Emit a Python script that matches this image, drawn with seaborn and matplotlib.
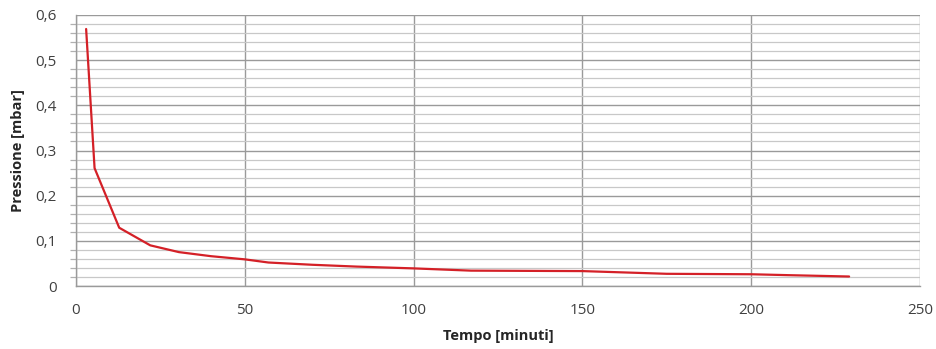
import matplotlib
matplotlib.use("Agg")
import matplotlib.pyplot as plt
import seaborn as sns
import pandas as pd
from matplotlib.ticker import MultipleLocator, FuncFormatter

tempo = [3, 5.5, 12.8, 22, 30.5, 40, 50, 57, 70, 83, 100, 117, 150, 175, 200, 211, 229]
pressione = [0.569, 0.261, 0.129, 0.090, 0.075, 0.066, 0.059, 0.052, 0.047, 0.043,
             0.039, 0.034, 0.033, 0.027, 0.026, 0.024, 0.021]
x_ticks = [0, 50, 100, 150, 200, 250]
y_ticks = [0, 0.1, 0.2, 0.3, 0.4, 0.5, 0.6]

df = pd.DataFrame({"Tempo": tempo, "Pressione": pressione})

sns.set_style("white")
plt.rcParams['font.family'] = ['Open Sans', 'DejaVu Sans']

fig = plt.figure(figsize=(9.36, 3.49), dpi=100)
ax = fig.add_axes([76/936, 1-286/349, (920-76)/936, (286-15)/349])

sns.lineplot(data=df, x="Tempo", y="Pressione", ax=ax, color="#d42027", linewidth=1.6, zorder=3)

ax.set_xlim(0, 250)
ax.set_ylim(0, 0.6)
ax.set_xticks(x_ticks)
ax.set_yticks(y_ticks)
ax.yaxis.set_minor_locator(MultipleLocator(0.02))
ax.yaxis.set_major_formatter(FuncFormatter(lambda v, p: "0" if abs(v) < 1e-9 else f"{v:.1f}".replace(".", ",")))

ax.grid(which="major", axis="both", color="#9a9a9a", linewidth=1.0, zorder=0)
ax.grid(which="minor", axis="y", color="#c8c8c8", linewidth=0.9, zorder=0)
ax.set_axisbelow(True)

for s in ["top", "right"]:
    ax.spines[s].set_visible(False)
ax.spines["left"].set_color("#9a9a9a")
ax.spines["bottom"].set_color("#9a9a9a")
ax.spines["left"].set_linewidth(1.0)
ax.spines["bottom"].set_linewidth(1.0)

ax.tick_params(axis="both", which="major", direction="out", length=5, width=1.0,
               color="#9a9a9a", labelsize=11, labelcolor="#404040")
ax.tick_params(axis="y", which="minor", direction="out", length=4, width=0.9, color="#b0b0b0",
               left=True)
ax.tick_params(axis="x", which="major", pad=7)
ax.tick_params(axis="y", which="major", pad=9)

ax.set_xlabel("Tempo [minuti]", fontsize=10.5, fontweight="bold", color="#262626", labelpad=8)
ax.set_ylabel("Pressione [mbar]", fontsize=10.5, fontweight="bold", color="#262626", labelpad=7)

fig.savefig("out.png", dpi=100)
